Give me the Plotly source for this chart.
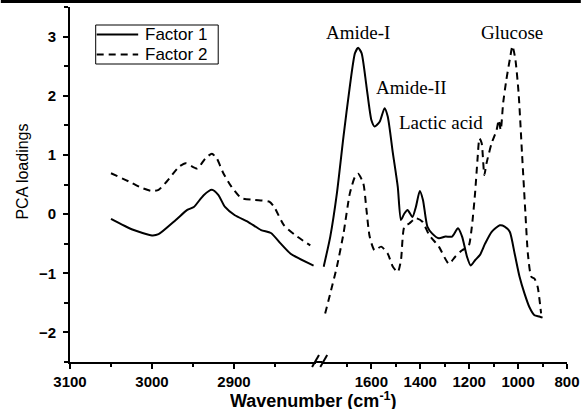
import plotly.graph_objects as go

# ---------------- data ----------------
f1_left_wn = [3050, 3024, 3000, 2992, 2971, 2957, 2949, 2937, 2927, 2919, 2911, 2899,
              2883, 2867, 2855, 2843, 2831, 2803]
f1_left_val = [-0.08, -0.26, -0.36, -0.34, -0.10, 0.07, 0.12, 0.32, 0.41, 0.32, 0.12, -0.02,
               -0.13, -0.27, -0.32, -0.50, -0.67, -0.87]

f2_left_wn = [3050, 3028, 3012, 3000, 2992, 2982, 2967, 2959, 2945, 2935, 2927, 2921,
              2913, 2903, 2891, 2875, 2857, 2851, 2839, 2823, 2807]
f2_left_val = [0.69, 0.55, 0.44, 0.39, 0.41, 0.55, 0.80, 0.86, 0.77, 0.94, 1.02, 0.94,
               0.69, 0.46, 0.27, 0.24, 0.21, 0.12, -0.19, -0.38, -0.53]

f1_right_wn = [1795, 1768, 1741, 1714, 1688, 1667, 1654, 1640, 1620, 1600, 1587, 1566,
               1546, 1533, 1512, 1492, 1479, 1465, 1452, 1432, 1418, 1402, 1389, 1371,
               1351, 1324, 1297, 1270, 1246, 1229, 1209, 1194, 1176, 1156, 1135, 1108,
               1075, 1055, 1034, 1014, 994, 974, 954, 933, 913, 900]
f1_right_val = [-0.89, -0.38, 0.35, 1.31, 2.16, 2.72, 2.81, 2.72, 2.16, 1.59, 1.48, 1.56,
                1.79, 1.65, 1.03, 0.46, -0.10, 0.01, 0.07, -0.05, 0.12, 0.39, 0.24, -0.21,
                -0.33, -0.41, -0.38, -0.38, -0.24, -0.38, -0.72, -0.87, -0.78, -0.69, -0.50, -0.30,
                -0.19, -0.21, -0.30, -0.67, -1.06, -1.34, -1.57, -1.71, -1.73, -1.75]

f2_right_wn = [1789, 1768, 1741, 1714, 1688, 1667, 1654, 1633, 1620, 1607, 1587, 1560,
               1533, 1512, 1492, 1479, 1465, 1445, 1418, 1391, 1364, 1324, 1283, 1257,
               1229, 1203, 1189, 1176, 1166, 1158, 1149, 1138, 1129, 1108, 1088, 1079,
               1071, 1061, 1048, 1034, 1023, 1011, 998, 984, 970, 960, 946, 933, 920, 906]
f2_right_val = [-1.68, -1.34, -0.89, -0.33, 0.35, 0.63, 0.68, 0.52, 0.07, -0.38, -0.61, -0.55,
                -0.67, -0.89, -0.98, -0.78, -0.21, -0.16, -0.07, -0.13, -0.35, -0.55, -0.84, -0.72,
                -0.61, -0.55, -0.21, 0.35, 0.92, 1.28, 1.20, 0.66, 0.86, 1.20, 1.42, 1.59,
                1.42, 1.88, 2.27, 2.61, 2.84, 2.61, 2.05, 1.03, 0.01, -0.67, -1.06, -1.09, -1.23, -1.68]

left_ticks = [3100, 3000, 2900]
left_minor = [3050, 2950, 2850]
right_ticks = [1600, 1400, 1200, 1000, 800]
right_minor = [1700, 1500, 1300, 1100, 900]
y_ticks = [-2, -1, 0, 1, 2, 3]
y_minor = [-2.5, -1.5, -0.5, 0.5, 1.5, 2.5, 3.5]

series_names = ["Factor 1", "Factor 2"]
band_labels = ["Amide-I", "Amide-II", "Lactic acid", "Glucose"]
band_x = [1655, 1434, 1315, 1026]
band_y = [3.07, 2.14, 1.56, 3.07]

# ---------------- figure ----------------
W, H = 587, 410
ml, mr, mt, mb = 70, 14, 7, 48
pw, ph = W - ml - mr, H - mt - mb

def px2paper_x(px):
    return (px - ml) / pw

def px2paper_y(py):
    return (H - mb - py) / ph

solid = dict(color="black", width=2, shape="spline", smoothing=0.6)
dashed = dict(color="black", width=2, dash="7px,5px", shape="spline", smoothing=0.6)

fig = go.Figure()
fig.add_trace(go.Scatter(x=f1_left_wn, y=f1_left_val, mode="lines", line=solid,
                         name=series_names[0], showlegend=False, xaxis="x", yaxis="y"))
fig.add_trace(go.Scatter(x=f2_left_wn, y=f2_left_val, mode="lines", line=dashed,
                         name=series_names[1], showlegend=False, xaxis="x", yaxis="y"))
fig.add_trace(go.Scatter(x=f1_right_wn, y=f1_right_val, mode="lines", line=solid,
                         name=series_names[0], showlegend=False, xaxis="x2", yaxis="y"))
fig.add_trace(go.Scatter(x=f2_right_wn, y=f2_right_val, mode="lines", line=dashed,
                         name=series_names[1], showlegend=False, xaxis="x2", yaxis="y"))

tickfont = dict(family="Arial, Liberation Sans, sans-serif", size=15, color="black",
                weight="bold")
axis_common = dict(showgrid=False, zeroline=False, showline=True, linecolor="black",
                   linewidth=2, ticks="outside", tickcolor="black", tickwidth=2,
                   ticklen=5, tickfont=tickfont)

x_break_left = px2paper_x(319)
x_break_right = px2paper_x(325.5)

fig.update_layout(
    width=W, height=H,
    margin=dict(l=ml, r=mr, t=mt, b=mb),
    paper_bgcolor="white", plot_bgcolor="white",
    showlegend=False,
    xaxis=dict(domain=[0, x_break_left], range=[3100, 2800], anchor="y",
               tickvals=left_ticks,
               minor=dict(tickvals=left_minor, ticks="outside", ticklen=3,
                          tickwidth=2, tickcolor="black"),
               **axis_common),
    xaxis2=dict(domain=[x_break_right, 1], range=[1800, 800], anchor="y",
                tickvals=right_ticks,
                minor=dict(tickvals=right_minor, ticks="outside", ticklen=3,
                           tickwidth=2, tickcolor="black"),
                **axis_common),
    yaxis=dict(range=[-2.5, 3.5], anchor="x", tickvals=y_ticks,
               minor=dict(tickvals=y_minor, ticks="outside", ticklen=4,
                          tickwidth=2, tickcolor="black"),
               ticklabelstandoff=4,
               **axis_common),
)

annotations = []
for lab, bx, by in zip(band_labels, band_x, band_y):
    annotations.append(dict(x=bx, y=by, xref="x2", yref="y", text=lab, showarrow=False,
                            xanchor="center", yanchor="middle", height=20,
                            font=dict(family="Times New Roman, Liberation Serif, serif",
                                      size=19, color="black")))
annotations.append(dict(x=px2paper_x(316), y=px2paper_y(400), xref="paper", yref="paper",
                        text="Wavenumber (cm<sup>-1</sup>)", showarrow=False,
                        xanchor="center", yanchor="middle", height=18,
                        font=dict(family="Arial, Liberation Sans, sans-serif", size=18,
                                  color="black", weight="bold")))
annotations.append(dict(x=px2paper_x(21), y=px2paper_y(172), xref="paper", yref="paper",
                        text="PCA loadings", showarrow=False, textangle=-90,
                        xanchor="center", yanchor="middle",
                        font=dict(family="Arial, Liberation Sans, sans-serif", size=16,
                                  color="black")))

shapes = []
# legend (box, line keys, labels)
shapes.append(dict(type="rect", xref="paper", yref="paper",
                   x0=px2paper_x(96), y0=px2paper_y(25), x1=px2paper_x(220), y1=px2paper_y(64),
                   line=dict(color="black", width=1), fillcolor="rgba(0,0,0,0)"))
for i, (name, dash) in enumerate(zip(series_names, ["solid", "7px,5px"])):
    ry = 34.5 + 20 * i
    shapes.append(dict(type="line", xref="paper", yref="paper",
                       x0=px2paper_x(97), y0=px2paper_y(ry), x1=px2paper_x(139), y1=px2paper_y(ry),
                       line=dict(color="black", width=2, dash=dash)))
    annotations.append(dict(x=px2paper_x(144), y=px2paper_y(ry), xref="paper", yref="paper",
                            text=name, showarrow=False, xanchor="left", yanchor="middle",
                            height=17,
                            font=dict(family="Arial, Liberation Sans, sans-serif", size=17,
                                      color="black")))
# axis-break slashes
for x0 in (315, 323.3):
    shapes.append(dict(type="line", xref="paper", yref="paper",
                       x0=px2paper_x(x0), y0=px2paper_y(367),
                       x1=px2paper_x(x0 + 7), y1=px2paper_y(355),
                       line=dict(color="black", width=2)))
# connecting axis line across the break
shapes.append(dict(type="line", xref="paper", yref="paper",
                   x0=x_break_left, y0=0, x1=x_break_right, y1=0,
                   line=dict(color="black", width=2)))
# top border strip of the original figure
shapes.append(dict(type="line", xref="paper", yref="paper",
                   x0=px2paper_x(0), y0=px2paper_y(1.5), x1=px2paper_x(W), y1=px2paper_y(1.5),
                   line=dict(color="black", width=3)))
fig.update_layout(shapes=shapes, annotations=annotations)

fig.write_html("out.html", config={"displayModeBar": False},
               post_script="document.body.style.margin='0';document.body.style.padding='0';")
